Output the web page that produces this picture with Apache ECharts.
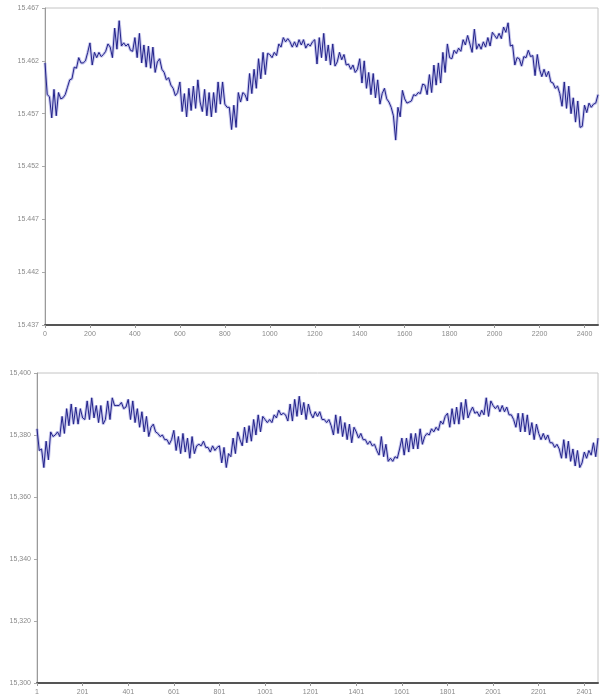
<!DOCTYPE html>
<html>
<head>
<meta charset="utf-8">
<script src="https://cdn.jsdelivr.net/npm/echarts@6/dist/echarts.min.js"></script>
<style>
  html, body { margin: 0; padding: 0; background: #fff; }
  #chart { width: 601px; height: 700px; }
</style>
</head>
<body>
<div id="chart"></div>
<script>
// sample step between plotted points (both runs sampled every 10 readings)
var step = 10;
var topStart = 0;
var bottomStart = 1;

var topTicks = [15.437, 15.442, 15.447, 15.452, 15.457, 15.462, 15.467];
var bottomTicks = [15300, 15320, 15340, 15360, 15380, 15400];

var topValues = [
  15.4618, 15.4588, 15.4586, 15.4566, 15.4593, 15.4568, 15.4590, 15.4584, 15.4585, 15.4588,
  15.4595, 15.4602, 15.4603, 15.4614, 15.4613, 15.4623, 15.4618, 15.4618, 15.4620, 15.4628,
  15.4637, 15.4616, 15.4628, 15.4623, 15.4628, 15.4624, 15.4626, 15.4629, 15.4636, 15.4633,
  15.4623, 15.4651, 15.4631, 15.4658, 15.4634, 15.4637, 15.4634, 15.4636, 15.4630, 15.4629,
  15.4642, 15.4623, 15.4646, 15.4618, 15.4635, 15.4614, 15.4634, 15.4613, 15.4633, 15.4609,
  15.4619, 15.4622, 15.4612, 15.4609, 15.4602, 15.4604, 15.4597, 15.4594, 15.4587, 15.4590,
  15.4600, 15.4572, 15.4589, 15.4567, 15.4594, 15.4573, 15.4596, 15.4575, 15.4602, 15.4581,
  15.4572, 15.4593, 15.4568, 15.4590, 15.4567, 15.4590, 15.4571, 15.4600, 15.4579, 15.4600,
  15.4579, 15.4576, 15.4576, 15.4555, 15.4578, 15.4557, 15.4590, 15.4581, 15.4590, 15.4588,
  15.4582, 15.4608, 15.4589, 15.4612, 15.4594, 15.4622, 15.4603, 15.4628, 15.4607, 15.4627,
  15.4626, 15.4623, 15.4628, 15.4625, 15.4636, 15.4633, 15.4642, 15.4638, 15.4641, 15.4638,
  15.4633, 15.4638, 15.4633, 15.4640, 15.4635, 15.4640, 15.4632, 15.4636, 15.4634, 15.4638,
  15.4640, 15.4617, 15.4642, 15.4623, 15.4646, 15.4620, 15.4635, 15.4616, 15.4636, 15.4615,
  15.4619, 15.4628, 15.4621, 15.4626, 15.4616, 15.4617, 15.4612, 15.4616, 15.4609, 15.4612,
  15.4622, 15.4599, 15.4620, 15.4594, 15.4609, 15.4588, 15.4608, 15.4585, 15.4602, 15.4579,
  15.4589, 15.4594, 15.4584, 15.4581, 15.4576, 15.4568, 15.4545, 15.4576, 15.4567, 15.4592,
  15.4584, 15.4580, 15.4581, 15.4582, 15.4588, 15.4587, 15.4590, 15.4589, 15.4598, 15.4597,
  15.4588, 15.4607, 15.4590, 15.4616, 15.4597, 15.4618, 15.4599, 15.4628, 15.4609, 15.4636,
  15.4623, 15.4622, 15.4630, 15.4627, 15.4632, 15.4629, 15.4640, 15.4635, 15.4644, 15.4636,
  15.4628, 15.4650, 15.4631, 15.4636, 15.4631, 15.4638, 15.4633, 15.4642, 15.4634, 15.4647,
  15.4644, 15.4641, 15.4646, 15.4641, 15.4652, 15.4647, 15.4656, 15.4634, 15.4635, 15.4616,
  15.4623, 15.4622, 15.4615, 15.4624, 15.4623, 15.4630, 15.4624, 15.4625, 15.4606, 15.4626,
  15.4612, 15.4605, 15.4612, 15.4605, 15.4610, 15.4600, 15.4599, 15.4594, 15.4596, 15.4589,
  15.4577, 15.4600, 15.4575, 15.4596, 15.4570, 15.4585, 15.4562, 15.4582, 15.4557, 15.4558,
  15.4578, 15.4571, 15.4580, 15.4576, 15.4579, 15.4580, 15.4588
];

var bottomValues = [
  15382.0, 15375.0, 15375.5, 15369.5, 15378.0, 15372.0, 15381.0, 15379.5, 15380.0, 15381.0,
  15379.5, 15386.0, 15380.5, 15388.5, 15383.0, 15390.0, 15383.5, 15389.0, 15383.5, 15388.5,
  15385.5, 15385.0, 15391.0, 15385.0, 15392.0, 15385.5, 15389.5, 15384.0, 15389.5, 15383.5,
  15385.0, 15391.0, 15385.0, 15392.0, 15389.5, 15389.5, 15389.5, 15390.5, 15388.5, 15389.0,
  15391.5, 15385.0, 15391.0, 15384.0, 15388.5, 15382.5, 15387.5, 15381.0, 15386.0, 15379.5,
  15382.5, 15383.5, 15381.0, 15380.5, 15379.5, 15380.0, 15378.5, 15378.5, 15377.0, 15378.5,
  15381.5, 15375.0, 15379.5, 15374.0, 15380.5, 15374.5, 15379.0, 15372.5, 15379.5, 15374.0,
  15376.5, 15377.0, 15376.5, 15378.0, 15376.0, 15376.0, 15374.5, 15376.5, 15375.0, 15376.0,
  15376.5, 15371.0, 15376.0, 15369.5, 15374.0, 15373.0, 15379.0, 15374.0, 15381.0, 15378.5,
  15376.5, 15382.5, 15377.5, 15383.0, 15378.0, 15385.0, 15380.0, 15386.5, 15381.0, 15386.0,
  15385.0, 15384.0, 15385.0, 15384.0, 15386.5, 15385.5, 15388.0, 15386.5, 15387.0, 15386.5,
  15384.5, 15390.0, 15384.5, 15391.5, 15386.0, 15392.5, 15386.5, 15390.5, 15385.0, 15390.0,
  15387.0, 15385.5, 15387.5, 15386.0, 15387.5, 15385.0, 15385.0, 15384.0, 15385.0, 15383.0,
  15380.0, 15386.5, 15380.5, 15386.0, 15379.5, 15384.0, 15378.5, 15383.5, 15377.5, 15382.5,
  15381.0, 15379.0, 15380.5, 15378.5, 15378.5, 15377.0, 15378.0, 15376.5, 15377.0, 15375.0,
  15373.5, 15379.5, 15373.0, 15377.0, 15371.5, 15372.5, 15371.5, 15373.0, 15372.5, 15375.5,
  15379.0, 15373.5, 15379.0, 15374.5, 15380.5, 15375.5, 15380.5, 15375.5, 15382.0, 15377.0,
  15379.5, 15380.5, 15380.0, 15382.0, 15381.0, 15382.5, 15381.5, 15384.5, 15383.5, 15386.0,
  15387.0, 15382.5, 15388.5, 15383.5, 15389.0, 15383.5, 15390.5, 15385.0, 15391.5, 15385.5,
  15387.5, 15389.0, 15387.0, 15387.5, 15386.0, 15388.0, 15386.5, 15392.0, 15386.0, 15391.0,
  15389.5, 15388.5, 15389.5, 15387.5, 15389.5, 15387.5, 15389.0, 15386.5, 15386.5, 15385.0,
  15382.5, 15387.0, 15381.0, 15387.0, 15381.0, 15386.5, 15380.0, 15384.0, 15378.5, 15383.5,
  15380.5, 15378.5, 15380.5, 15378.5, 15380.0, 15377.5, 15377.5, 15376.0, 15377.0, 15375.5,
  15372.5, 15378.5, 15372.5, 15378.0, 15371.5, 15375.5, 15370.0, 15375.0, 15369.5, 15371.0,
  15374.5, 15372.5, 15375.0, 15373.5, 15377.5, 15373.0, 15379.0
];

function indexLabels(start, n) {
  var out = [];
  for (var i = 0; i < n; i++) out.push(String(start + i * step));
  return out;
}

var topCats = indexLabels(topStart, topValues.length);
var bottomCats = indexLabels(bottomStart, bottomValues.length);

function addCommas(v) {
  return String(Math.round(v)).replace(/\B(?=(\d{3})+(?!\d))/g, ',');
}

var labelStyle = { color: '#8a8a8a', fontSize: 7, fontFamily: 'Liberation Sans' };

function xAxisFor(cats, gridIndex) {
  return {
    type: 'category',
    gridIndex: gridIndex,
    data: cats,
    boundaryGap: false,
    axisLine: { lineStyle: { color: '#555', width: 2 } },
    axisTick: { show: true, interval: 19, length: 3, lineStyle: { color: '#999' } },
    axisLabel: Object.assign({ interval: 19, margin: 6 }, labelStyle),
    splitLine: { show: false }
  };
}

function yAxisFor(ticks, gridIndex, fmt) {
  return {
    type: 'value',
    gridIndex: gridIndex,
    min: ticks[0],
    max: ticks[ticks.length - 1],
    axisLine: { show: true, lineStyle: { color: '#9a9a9a', width: 1 } },
    axisTick: { show: true, length: 3, customValues: ticks, lineStyle: { color: '#aaa' } },
    axisLabel: Object.assign({ customValues: ticks, formatter: fmt, margin: 6 }, labelStyle),
    splitLine: { show: false }
  };
}

// light fringe under the dark trace, like the blurred original
function traceSeries(idx, data) {
  return [
    {
      type: 'line', xAxisIndex: idx, yAxisIndex: idx, data: data,
      showSymbol: false, symbol: 'none', silent: true,
      lineStyle: { color: '#8080d4', width: 3, opacity: 0.45 }
    },
    {
      type: 'line', xAxisIndex: idx, yAxisIndex: idx, data: data,
      showSymbol: false, symbol: 'none', silent: true,
      lineStyle: { color: '#22228a', width: 1 }
    }
  ];
}

var chart = echarts.init(document.getElementById('chart'));
var option = {
  backgroundColor: '#fff',
  animation: false,
  grid: [
    { left: 45, right: 3, top: 8, bottom: 375, show: true, borderColor: '#c4c4c4', borderWidth: 1 },
    { left: 37, right: 3, top: 373, bottom: 17, show: true, borderColor: '#c4c4c4', borderWidth: 1 }
  ],
  xAxis: [xAxisFor(topCats, 0), xAxisFor(bottomCats, 1)],
  yAxis: [
    yAxisFor(topTicks, 0, function (v) { return v.toFixed(3); }),
    yAxisFor(bottomTicks, 1, addCommas)
  ],
  series: traceSeries(0, topValues).concat(traceSeries(1, bottomValues))
};
chart.setOption(option);
</script>
</body>
</html>
